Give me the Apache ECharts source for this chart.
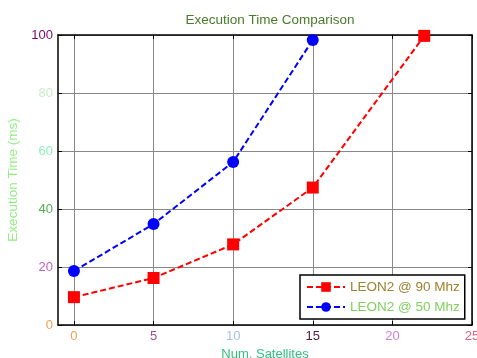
<!DOCTYPE html>
<html>
<head>
<meta charset="utf-8">
<script src="https://cdn.jsdelivr.net/npm/echarts@6/dist/echarts.min.js"></script>
<style>
  html, body { margin: 0; padding: 0; background: #fff; }
  #chart { width: 477px; height: 358px; }
</style>
</head>
<body>
<div id="chart"></div>
<script>
// data
const seriesNames = ['LEON2 @ 90 Mhz', 'LEON2 @ 50 Mhz']
const xLeon90 = [0, 5, 10, 15, 22]
const yLeon90 = [9.6, 16.2, 27.8, 47.4, 99.7]
const xLeon50 = [0, 5, 10, 15]
const yLeon50 = [18.6, 34.8, 56.2, 98.3]
const xTicks = [0, 5, 10, 15, 20, 25]

// tick label colours (every label has its own)
const xTickColors = { 0: '#f0a050', 5: '#a05090', 10: '#a8c0e8', 15: '#5a1840', 20: '#d080d0', 25: '#e06080' }
const yTickColors = { 0: '#f0a050', 20: '#c060c0', 40: '#50b050', 60: '#90f0c0', 80: '#c8ecc8', 100: '#7a0a6a' }

const font = 'Liberation Sans'
const pair = (xs, ys) => xs.map((x, i) => [x, ys[i]])

const chart = echarts.init(document.getElementById('chart'))
chart.setOption({
  animation: false,
  textStyle: { fontFamily: font },
  title: {
    text: 'Execution Time Comparison',
    left: 265,
    textAlign: 'center',
    top: 8,
    textStyle: { fontSize: 13.5, fontWeight: 'normal', color: '#4a7a2a', fontFamily: font }
  },
  grid: { left: 58, right: 5, top: 35, bottom: 33, outerBoundsMode: 'none', containLabel: false },
  legend: {
    orient: 'vertical',
    left: 300,
    top: 275,
    padding: [5, 5, 5, 6],
    itemGap: 6,
    itemWidth: 38,
    itemHeight: 12,
    borderColor: '#000',
    borderWidth: 1.5,
    backgroundColor: '#fff',
    data: seriesNames,
    formatter: name => (name === seriesNames[0] ? '{a|' : '{b|') + name + '}',
    textStyle: {
      fontSize: 13.5,
      rich: {
        a: { color: '#a08030', fontSize: 13.5, fontFamily: font },
        b: { color: '#80d060', fontSize: 13.5, fontFamily: font }
      }
    }
  },
  xAxis: [
    {
      type: 'value',
      min: -1,
      max: 25,
      name: 'Num. Satellites',
      nameLocation: 'middle',
      nameGap: 18,
      nameTextStyle: { color: '#30c080', fontSize: 13 },
      axisLine: { onZero: false, lineStyle: { color: '#000', width: 1.5 } },
      axisTick: { inside: true, length: 4, customValues: xTicks, lineStyle: { color: '#000' } },
      axisLabel: {
        customValues: xTicks,
        margin: 5,
        fontSize: 13,
        color: v => xTickColors[v] || '#000'
      },
      splitLine: { show: true, lineStyle: { color: '#888', width: 1 } }
    },
    {
      type: 'value',
      position: 'top',
      min: -1,
      max: 25,
      axisLine: { onZero: false, lineStyle: { color: '#000', width: 1.5 } },
      axisTick: { inside: true, length: 4, customValues: xTicks, lineStyle: { color: '#000' } },
      axisLabel: { show: false },
      splitLine: { show: false }
    }
  ],
  yAxis: [
    {
      type: 'value',
      min: 0,
      max: 100,
      interval: 20,
      name: 'Execution Time (ms)',
      nameLocation: 'middle',
      nameGap: 36,
      nameTextStyle: { color: '#90ee80', fontSize: 13.5 },
      axisLine: { show: true, onZero: false, lineStyle: { color: '#000', width: 1.5 } },
      axisTick: { show: true, inside: true, length: 4, lineStyle: { color: '#000' } },
      axisLabel: { margin: 5, fontSize: 13, color: v => yTickColors[v] || '#000' },
      splitLine: { show: true, lineStyle: { color: '#888', width: 1 } }
    },
    {
      type: 'value',
      position: 'right',
      min: 0,
      max: 100,
      interval: 20,
      axisLine: { show: true, onZero: false, lineStyle: { color: '#000', width: 1.5 } },
      axisTick: { show: true, inside: true, length: 4, lineStyle: { color: '#000' } },
      axisLabel: { show: false },
      splitLine: { show: false }
    }
  ],
  series: [
    {
      name: seriesNames[0],
      type: 'line',
      data: pair(xLeon90, yLeon90),
      symbol: 'rect',
      symbolSize: 12,
      itemStyle: { color: '#ff0000' },
      lineStyle: { color: '#ff0000', width: 2, type: [6, 3] }
    },
    {
      name: seriesNames[1],
      type: 'line',
      data: pair(xLeon50, yLeon50),
      symbol: 'circle',
      symbolSize: 12,
      itemStyle: { color: '#0000ff' },
      lineStyle: { color: '#0000ff', width: 2, type: [6, 3] }
    }
  ]
})
</script>
</body>
</html>
